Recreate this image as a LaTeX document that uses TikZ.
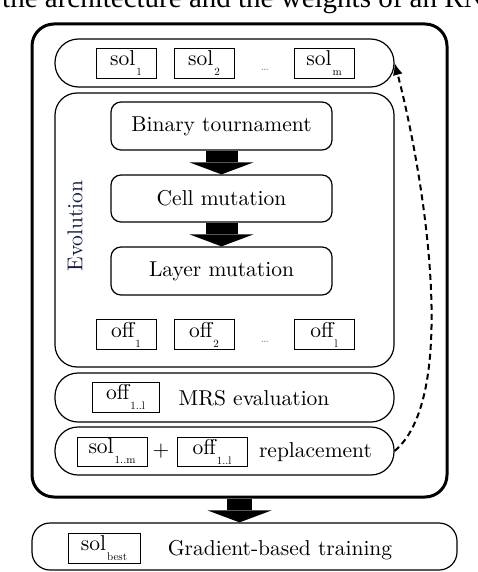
\documentclass[tikz,border=0pt]{standalone}
\usepackage{fontspec}
\usepackage{xcolor}
\usepackage{tikz}
\usetikzlibrary{arrows.meta}
\setmainfont{lmroman10-regular.otf}
\newfontfamily\headfont{Liberation Serif}
\definecolor{evoblue}{RGB}{20,28,70}
\newcommand{\lowsub}[1]{\kern1pt\raisebox{-10pt}{\fontsize{11}{11}\selectfont #1}}

\begin{document}
\begin{tikzpicture}[x=1pt, y=-1pt,
    every node/.style={inner sep=0pt, font=\fontsize{21.5}{23}\selectfont},
    panel/.style={draw, line width=1.2pt, rounded corners=#1, minimum width=339pt},
    panel/.default=22pt,
    stage/.style={draw, line width=1.2pt, rounded corners=10pt, minimum width=221pt, minimum height=48pt},
    item/.style={draw, line width=0.9pt, minimum width=60pt, minimum height=30pt},
    dots/.style={text=gray, font=\fontsize{12}{12}\selectfont},
    fat/.style={line width=#1, -{Triangle[length=12pt, width=64pt, line width=0pt]}}]
    \useasboundingbox (0,0) rectangle (478,572);
    \node[anchor=base west, font=\headfont\fontsize{29}{29}\selectfont] (head) at (2,8) {the architecture and the weights of an RNN};
    \node[draw, line width=3pt, rounded corners=22pt, minimum width=415pt, minimum height=473pt] (frame) at (239.5,260.5) {};
    \node[panel=23.5pt, minimum height=48pt] (solbar) at (224.5,63) {};
    \node[item] (sol1) at (126,63) {sol\lowsub{1}};
    \node[item] (sol2) at (204,63) {sol\lowsub{2}};
    \node[dots] (soldots) at (265,70) {\dots};
    \node[item] (solm) at (324,63) {sol\lowsub{m}};
    \node[panel, minimum height=274pt] (evo) at (224.5,230) {};
    \node[text=evoblue, rotate=90] (evolabel) at (75,226) {Evolution};
    \node[stage] (binary) at (221.5,126) {Binary tournament};
    \node[stage, minimum height=47pt] (cell) at (221.5,198.5) {Cell mutation};
    \node[stage] (layer) at (221.5,271) {Layer mutation};
    \draw[fat=32pt] (binary.south) -- (cell.north);
    \draw[fat=32pt] (cell.south) -- (layer.north);
    \node[item] (off1) at (126,334.5) {off\lowsub{1}};
    \node[item] (off2) at (204,334.5) {off\lowsub{2}};
    \node[dots] (offdots) at (265,342) {\dots};
    \node[item] (offl) at (324,334.5) {off\lowsub{l}};
    \node[panel=23pt, minimum height=49pt] (mrs) at (224.5,397.5) {};
    \node[item, minimum width=67pt] (mrsoff) at (125.5,397) {off\lowsub{1..l}};
    \node[anchor=base] (mrstext) at (254,405) {MRS evaluation};
    \node[panel=23pt, minimum height=48pt] (repl) at (224.5,451) {};
    \node[item, minimum width=70pt, minimum height=29pt] (replsol) at (112,451.5) {sol\lowsub{1..m}};
    \node (plus) at (161,451) {+};
    \node[item, minimum width=70pt, minimum height=29pt] (reploff) at (212,451.5) {off\lowsub{1..l}};
    \node[anchor=base] (repltext) at (315.5,457) {replacement};
    \draw[dash pattern=on 6pt off 4pt, line width=2pt, -{Latex[length=12pt, width=10pt]}] (repl.east) to[out=40, in=-75, looseness=0.6] (solbar.east);
    \node[draw, line width=1.2pt, rounded corners=18pt, minimum width=425pt, minimum height=47pt] (grad) at (244.5,546.5) {};
    \draw[fat=25pt] (frame.south) -- (frame.south |- grad.north);
    \node[item, minimum width=72pt] (gsol) at (104,548) {sol\lowsub{best}};
    \node[anchor=base] (gradtext) at (280,555) {Gradient-based training};
\end{tikzpicture}
\end{document}
